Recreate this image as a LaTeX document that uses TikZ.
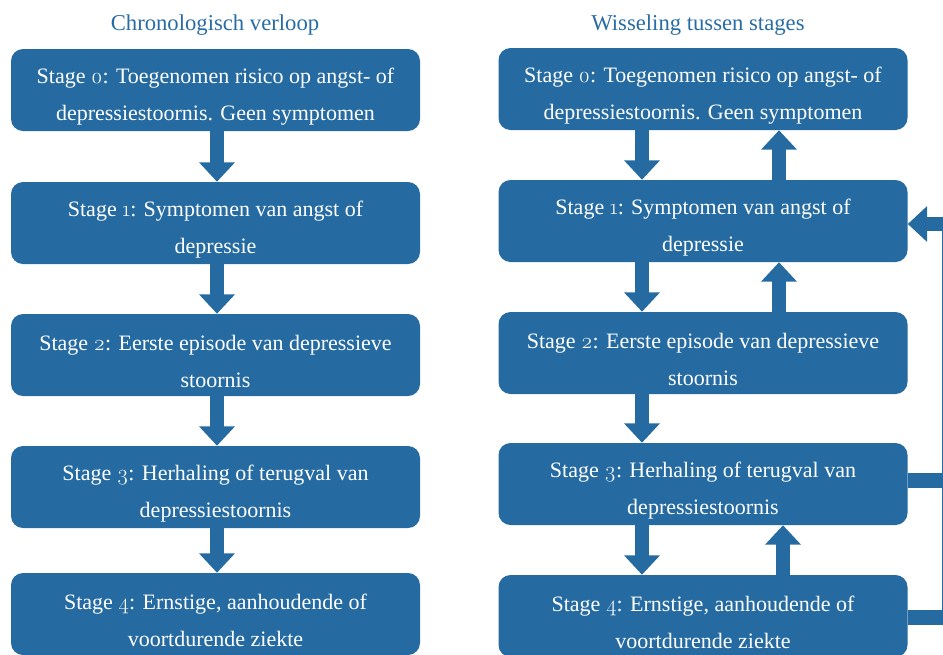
\documentclass[tikz,border=0pt]{standalone}
\usepackage{fontspec}
\setmainfont{Liberation Serif}
\newfontfamily\osf{Latin Modern Roman}[Numbers=OldStyle]
\usetikzlibrary{arrows.meta,calc}
\definecolor{boxblue}{RGB}{37,107,161}
\definecolor{titleblue}{RGB}{40,108,165}
\tikzset{
  stagebox/.style={rectangle, rounded corners=9pt, fill=boxblue,
    minimum width=306.75pt, minimum height=61.5pt, inner sep=0pt},
  stagetext/.style={text=white, inner sep=0pt, align=center, yshift=-5pt,
    font=\fontsize{16.5}{27.75}\selectfont},
  coltitle/.style={text=titleblue, font=\fontsize{17}{20}\selectfont, inner sep=0pt},
  blockarrow/.style={draw=boxblue, line width=10.5pt,
    -{Triangle[length=14.5pt,width=26pt]}},
  barline/.style={draw=boxblue, line width=11pt},
}
\begin{document}
\begin{tikzpicture}[x=0.75pt,y=-0.75pt]
\useasboundingbox (0,0) rectangle (943,654);
\clip (0,0) rectangle (943,654);
% titles
\node[coltitle] (tl) at (215,25) {Chronologisch verloop};
\node[coltitle] (tr) at (698,25) {Wisseling tussen stages};
% left column
\node[stagebox, label={[stagetext]center:Stage {\osf 0}: Toegenomen risico op angst- of\\depressiestoornis. Geen symptomen}] (L0) at (215.5,90) {};
\node[stagebox, label={[stagetext]center:Stage {\osf 1}: Symptomen van angst of\\depressie}] (L1) at (215.5,223) {};
\node[stagebox, label={[stagetext]center:Stage {\osf 2}: Eerste episode van depressieve\\stoornis}] (L2) at (215.5,355) {};
\node[stagebox, label={[stagetext]center:Stage {\osf 3}: Herhaling of terugval van\\depressiestoornis}] (L3) at (215.5,487) {};
\node[stagebox, label={[stagetext]center:Stage {\osf 4}: Ernstige, aanhoudende of\\voortdurende ziekte}] (L4) at (215.5,614) {};
% right column
\node[stagebox, label={[stagetext]center:Stage {\osf 0}: Toegenomen risico op angst- of\\depressiestoornis. Geen symptomen}] (R0) at (703,89) {};
\node[stagebox, label={[stagetext]center:Stage {\osf 1}: Symptomen van angst of\\depressie}] (R1) at (703,221) {};
\node[stagebox, label={[stagetext]center:Stage {\osf 2}: Eerste episode van depressieve\\stoornis}] (R2) at (703,353) {};
\node[stagebox, label={[stagetext]center:Stage {\osf 3}: Herhaling of terugval van\\depressiestoornis}] (R3) at (703,484) {};
\node[stagebox, label={[stagetext]center:Stage {\osf 4}: Ernstige, aanhoudende of\\voortdurende ziekte}] (R4) at (703,616) {};
% left arrows
\draw[blockarrow] ($(L0.south)+(1.5,0)$) -- ($(L1.north)+(1.5,0)$);
\draw[blockarrow] ($(L1.south)+(1.5,0)$) -- ($(L2.north)+(1.5,0)$);
\draw[blockarrow] ($(L2.south)+(1.5,0)$) -- ($(L3.north)+(1.5,0)$);
\draw[blockarrow] ($(L3.south)+(1.5,0)$) -- ($(L4.north)+(1.5,0)$);
% right down arrows
\draw[blockarrow] ($(R0.south)+(-61,0)$) -- ($(R1.north)+(-61,0)$);
\draw[blockarrow] ($(R1.south)+(-61,0)$) -- ($(R2.north)+(-61,0)$);
\draw[blockarrow] ($(R2.south)+(-61,0)$) -- ($(R3.north)+(-61,0)$);
\draw[blockarrow] ($(R3.south)+(-61,0)$) -- ($(R4.north)+(-61,0)$);
% right up arrows
\draw[blockarrow] ($(R1.north)+(76,0)$) -- ($(R0.south)+(76,0)$);
\draw[blockarrow] ($(R2.north)+(76,0)$) -- ($(R1.south)+(76,0)$);
\draw[blockarrow] ($(R4.north)+(80,0)$) -- ($(R3.south)+(80,0)$);
% return connector on the right
\coordinate (rc) at (949,224);
\draw[barline] ($(R3.east)+(0,-3.5)$) -- ($(R3.east)+(50,-3.5)$);
\draw[barline] ($(R4.east)+(0,1.5)$) -- ($(R4.east)+(50,1.5)$);
\draw[barline] (949,625) -- (rc);
\draw[blockarrow] ($(rc)+(5.5,0)$) -- (R1.east |- rc);
\end{tikzpicture}
\end{document}
